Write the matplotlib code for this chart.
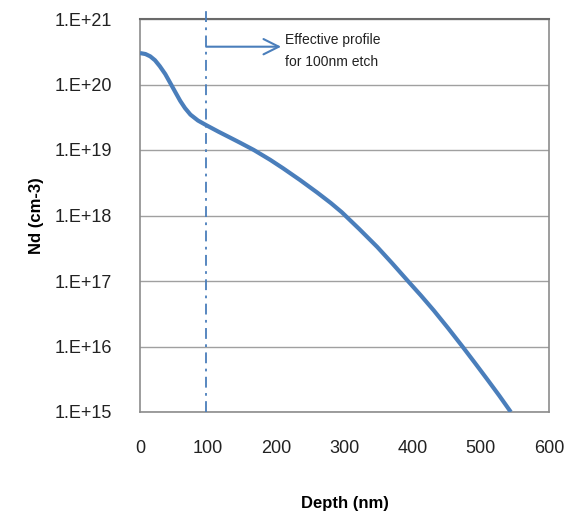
import numpy as np
import matplotlib.pyplot as plt
import matplotlib as mpl

# doping profile (depth in nm, log10 of Nd in cm-3)
depth = [0, 8, 15, 22, 29, 37, 44, 52, 59, 66, 74, 85, 97, 115, 132, 147, 167,
         191, 210, 235, 260, 280, 296, 322, 348, 370, 393, 412, 431, 452, 473,
         492, 510, 527, 544]
log_nd = [20.48, 20.465, 20.43, 20.37, 20.28, 20.16, 20.03, 19.88, 19.75, 19.64,
          19.54, 19.45, 19.38, 19.28, 19.19, 19.11, 19.00,
          18.85, 18.72, 18.54, 18.35, 18.19, 18.05, 17.79, 17.52, 17.27, 17.00,
          16.78, 16.55, 16.28, 16.00, 15.74, 15.49, 15.25, 15.00]
nd = 10.0 ** np.array(log_nd)

etch_depth = 97
yticks = [1e15, 1e16, 1e17, 1e18, 1e19, 1e20, 1e21]
ytick_labels = ["1.E+15", "1.E+16", "1.E+17", "1.E+18", "1.E+19", "1.E+20", "1.E+21"]
xticks = [0, 100, 200, 300, 400, 500, 600]

mpl.rcParams['font.family'] = 'Liberation Sans'
blue = "#4a7ebb"

fig = plt.figure(figsize=(5.77, 5.27), dpi=100)
ax = fig.add_axes([140/577, 1 - 412/527, 409/577, 393/527])

ax.plot(depth, nd, color=blue, linewidth=3, solid_capstyle='butt',
        solid_joinstyle='round', zorder=3)

# dash-dot marker for the etch depth, sticks out above the plot
ax.plot([etch_depth, etch_depth], [1e15, 1.35e21], color=blue, linewidth=1.3,
        linestyle=(0, (6, 3, 1.5, 3)), clip_on=False, zorder=4)

arrow_y = 10 ** (21 - (46.7 - 19) / 65.5)
ax.annotate("", xy=(207, arrow_y), xytext=(etch_depth, arrow_y),
            arrowprops=dict(arrowstyle="->,head_length=1.1,head_width=0.55",
                            color=blue, lw=1.5, shrinkA=0, shrinkB=0))
ax.text(213, 10 ** (21 - (40 - 19) / 65.5), "Effective profile", fontsize=10,
        va='center', ha='left', color="#222222")
ax.text(213, 10 ** (21 - (62 - 19) / 65.5), "for 100nm etch", fontsize=10,
        va='center', ha='left', color="#222222")

ax.set_yscale('log')
ax.set_ylim(1e15, 1e21)
ax.set_xlim(0, 600)
ax.set_yticks(yticks)
ax.set_yticklabels(ytick_labels)
ax.yaxis.set_minor_locator(mpl.ticker.NullLocator())
ax.set_xticks(xticks)
ax.tick_params(axis='both', length=0, labelsize=13, colors="#222222")
ax.tick_params(axis='y', pad=20)
ax.tick_params(axis='x', pad=20)

ax.grid(axis='y', color="#a0a0a0", linewidth=1)
ax.set_axisbelow(True)
for side in ['left', 'right', 'bottom']:
    ax.spines[side].set_color("#8c8c8c")
    ax.spines[side].set_linewidth(1.2)
ax.spines['top'].set_color("#6a6a6a")
ax.spines['top'].set_linewidth(1.5)

ax.set_xlabel("Depth (nm)", fontsize=12, fontweight='bold', labelpad=28)
ax.set_ylabel("Nd (cm-3)", fontsize=12, fontweight='bold', labelpad=8)

fig.savefig("out.png", dpi=100)
